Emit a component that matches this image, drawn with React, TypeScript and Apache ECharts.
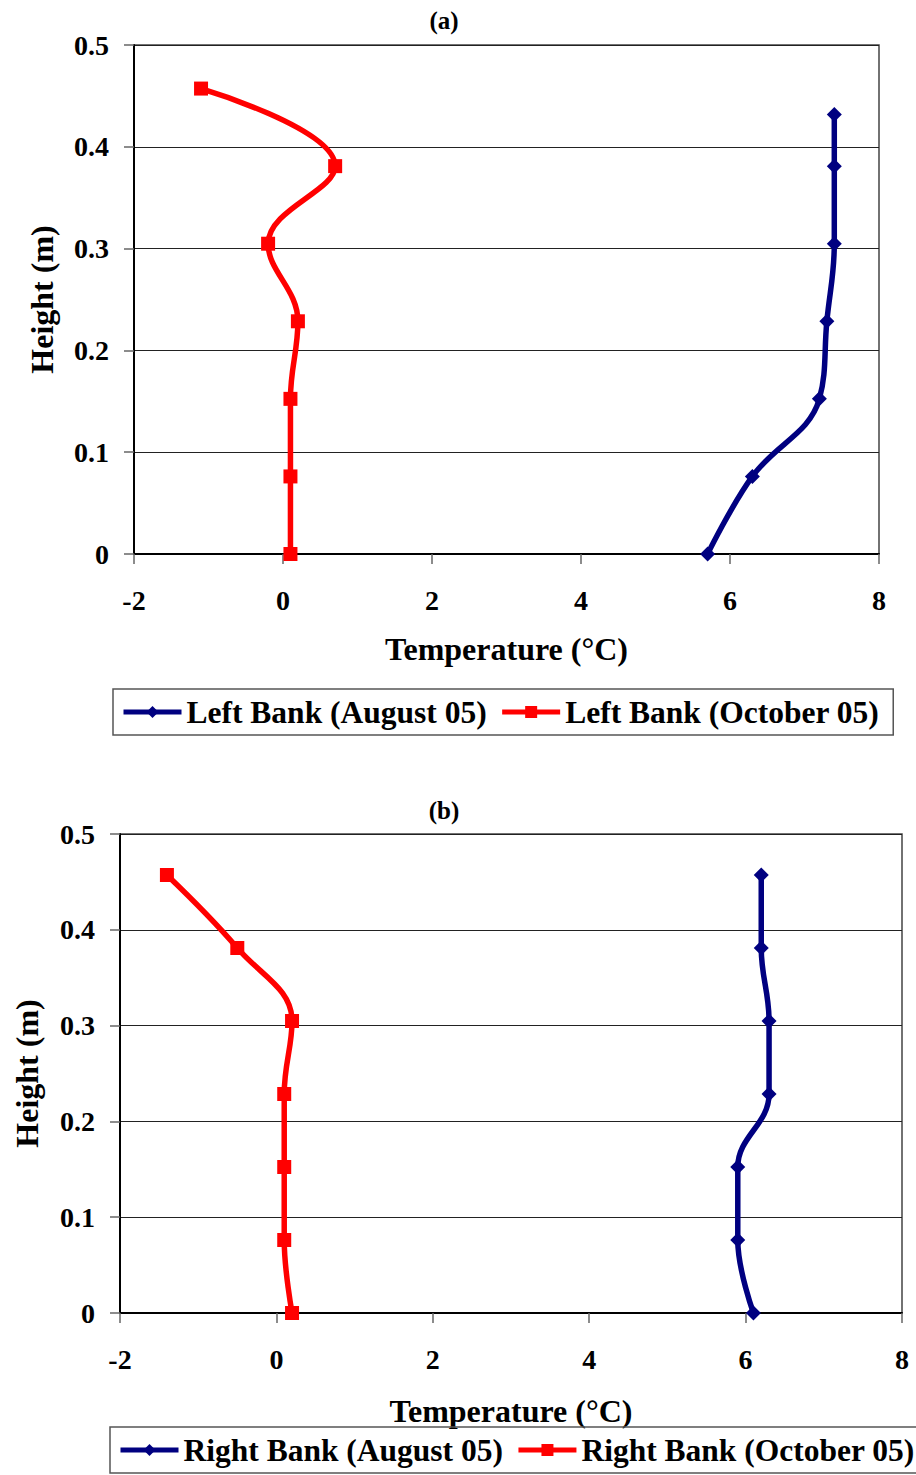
import React, { useEffect, useRef } from "react";
import * as echarts from "echarts";

// Heights (m) of the measurement points
const heights = [0, 0.0762, 0.1524, 0.2286, 0.3048, 0.381, 0.4572];
const heightsLeftAug = [0, 0.0762, 0.1524, 0.2286, 0.3048, 0.381, 0.4318];

// Temperatures (°C)
const leftAugust = [5.7, 6.3, 7.2, 7.3, 7.4, 7.4, 7.4];
const leftOctober = [0.1, 0.1, 0.1, 0.2, -0.2, 0.7, -1.1];
const rightAugust = [6.1, 5.9, 5.9, 6.3, 6.3, 6.2, 6.2];
const rightOctober = [0.2, 0.1, 0.1, 0.1, 0.2, -0.5, -1.4];

const seriesNames = [
  "Left Bank (August 05)",
  "Left Bank (October 05)",
  "Right Bank (August 05)",
  "Right Bank (October 05)",
];

const FONT = "'Liberation Serif', 'Times New Roman', serif";
const NAVY = "#000080";
const RED = "#ff0000";

const pairs = (xs: number[], ys: number[]) => xs.map((x, i) => [x, ys[i]]);

export default function App() {
  const ref = useRef<HTMLDivElement>(null);
  useEffect(() => {
    document.body.style.margin = "0";
    const chart = echarts.init(ref.current!, undefined, { renderer: "svg" });
    const xAxisBase = (gridIndex: number, margin: number, nameGap: number) => ({
      type: "value" as const,
      gridIndex,
      min: -2,
      max: 8,
      interval: 2,
      name: "Temperature (°C)",
      nameLocation: "middle" as const,
      nameGap,
      nameTextStyle: { fontFamily: FONT, fontWeight: "bold", fontSize: 32, color: "#000" },
      axisLine: { show: true, onZero: false, lineStyle: { color: "#000", width: 2 } },
      axisTick: { show: true, length: 10, lineStyle: { color: "#666", width: 1.5 } },
      axisLabel: { margin, fontFamily: FONT, fontWeight: "bold", fontSize: 28, color: "#000" },
      splitLine: { show: false },
    });
    const yAxisBase = (gridIndex: number, nameGap: number) => ({
      type: "value" as const,
      gridIndex,
      min: 0,
      max: 0.5,
      interval: 0.1,
      name: "Height (m)",
      nameLocation: "middle" as const,
      nameGap,
      nameRotate: 90,
      nameTextStyle: { fontFamily: FONT, fontWeight: "bold", fontSize: 32, color: "#000" },
      axisLine: { show: true, onZero: false, lineStyle: { color: "#000", width: 2 } },
      axisTick: { show: true, length: 10, lineStyle: { color: "#666", width: 1.5 } },
      axisLabel: { margin: 25, fontFamily: FONT, fontWeight: "bold", fontSize: 28, color: "#000" },
      splitLine: { show: true, lineStyle: { color: "#222", width: 1 } },
    });
    const legendBase = (left: number, top: number, names: string[]) => ({
      left,
      top,
      width: 1000,
      orient: "horizontal" as const,
      data: names,
      itemWidth: 58,
      itemHeight: 15,
      itemGap: 13,
      borderColor: "#555",
      borderWidth: 1.5,
      padding: [7, 14, 7, 8],
      lineStyle: { width: 5 },
      textStyle: { fontFamily: FONT, fontWeight: "bold", fontSize: 31.5, color: "#000" },
    });
    const lineSeries = (
      name: string,
      data: number[][],
      idx: number,
      color: string,
      symbol: string,
      size: number
    ) => ({
      name,
      type: "line" as const,
      xAxisIndex: idx,
      yAxisIndex: idx,
      data,
      smooth: 0.4,
      symbol,
      symbolSize: size,
      itemStyle: { color },
      lineStyle: { color, width: 5.5 },
      z: 3,
    });
    chart.setOption({
      animation: false,
      backgroundColor: "#fff",
      grid: [
        { left: 134, top: 45, width: 745, height: 509, show: true, borderColor: "#444", borderWidth: 1.5, backgroundColor: "transparent" },
        { left: 120, top: 834, width: 782, height: 479, show: true, borderColor: "#444", borderWidth: 1.5, backgroundColor: "transparent" },
      ],
      xAxis: [xAxisBase(0, 32, 79), xAxisBase(1, 32, 82)],
      yAxis: [yAxisBase(0, 76), yAxisBase(1, 77)],
      legend: [
        legendBase(113, 689, [seriesNames[0], seriesNames[1]]),
        legendBase(110, 1427, [seriesNames[2], seriesNames[3]]),
      ],
      graphic: [
        {
          type: "text",
          x: 444,
          y: 20,
          style: { text: "(a)", font: `bold 25px ${FONT}`, fill: "#000", textAlign: "center", textVerticalAlign: "middle" },
        },
        {
          type: "text",
          x: 444,
          y: 810,
          style: { text: "(b)", font: `bold 25px ${FONT}`, fill: "#000", textAlign: "center", textVerticalAlign: "middle" },
        },
      ],
      series: [
        lineSeries(seriesNames[0], pairs(leftAugust, heightsLeftAug), 0, NAVY, "diamond", 15),
        lineSeries(seriesNames[1], pairs(leftOctober, heights), 0, RED, "rect", 14),
        lineSeries(seriesNames[2], pairs(rightAugust, heights), 1, NAVY, "diamond", 15),
        lineSeries(seriesNames[3], pairs(rightOctober, heights), 1, RED, "rect", 14),
      ],
    });
    return () => chart.dispose();
  }, []);
  return <div ref={ref} style={{ width: 916, height: 1475 }} />;
}
